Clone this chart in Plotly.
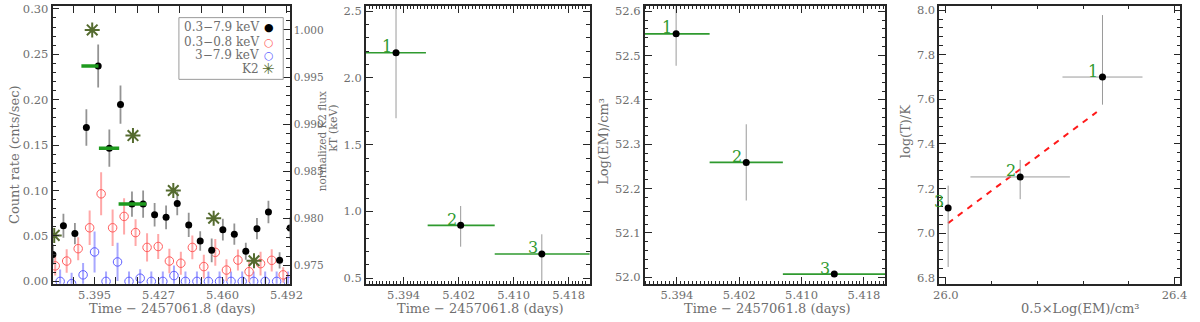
import plotly.graph_objects as go

# ── Data ───────────────────────────────────────────────────────────────────────

# 0.3-7.9 keV light curve (black)
broad_time = [5.37383, 5.37917, 5.38500, 5.39083, 5.39683, 5.40250, 5.40817, 5.41400,
              5.41967, 5.42550, 5.43133, 5.43700, 5.44283, 5.44867, 5.45450, 5.46017,
              5.46600, 5.47183, 5.47750, 5.48333, 5.48900, 5.49433]
broad_rate = [0.0296, 0.0612, 0.0526, 0.1694, 0.2370, 0.1466, 0.1946, 0.0851,
              0.0851, 0.0733, 0.0705, 0.0857, 0.0622, 0.0445, 0.0342, 0.0569,
              0.0520, 0.0331, 0.0580, 0.0765, 0.0232, 0.0587]
broad_err  = [0.011, 0.0132, 0.0117, 0.020, 0.0237, 0.0205, 0.021, 0.0139,
              0.015, 0.013, 0.013, 0.013, 0.0133, 0.0107, 0.013, 0.012,
              0.0116, 0.0093, 0.0117, 0.0124, 0.0089, 0.012]

# 0.3-0.8 keV (red open circles)
soft_time = [5.37500, 5.38083, 5.38667, 5.39250, 5.39833, 5.40417, 5.41000, 5.41583,
             5.42167, 5.42733, 5.43300, 5.43883, 5.44467, 5.45050, 5.45633, 5.46200,
             5.46783, 5.47350, 5.47933, 5.48500, 5.49083]
soft_rate = [0.0171, 0.0224, 0.0360, 0.0590, 0.0964, 0.0590, 0.0715, 0.0537,
             0.0374, 0.0384, 0.0224, 0.0200, 0.0374, 0.0163, 0.0320, 0.0125,
             0.0235, 0.0107, 0.0195, 0.0232, 0.0072]
soft_err  = [0.0105, 0.013, 0.0126, 0.019, 0.0237, 0.020, 0.020, 0.0147,
             0.0155, 0.0137, 0.0135, 0.0126, 0.013, 0.013, 0.0147, 0.012,
             0.0116, 0.0116, 0.013, 0.0123, 0.0084]

# 3-7.9 keV (blue open circles)
hard_time = [5.37750, 5.38333, 5.38917, 5.39500, 5.40083, 5.40667, 5.41250, 5.41817,
             5.42383, 5.42967, 5.43533, 5.44117, 5.44700, 5.45283, 5.45850, 5.46433,
             5.47000, 5.47583, 5.48167, 5.48750, 5.49333]
hard_rate = [0.0, -0.0025, 0.0072, 0.0324, 0.0, 0.0214, 0.0, 0.0035,
             0.0, 0.0, 0.0064, 0.0, 0.0, 0.0, 0.0, 0.0,
             0.0, 0.0, 0.0, 0.0, 0.0]
hard_err  = [0.013, 0.012, 0.013, 0.0225, 0.011, 0.021, 0.011, 0.010,
             0.011, 0.011, 0.011, 0.011, 0.011, 0.011, 0.011, 0.011,
             0.011, 0.011, 0.011, 0.011, 0.011]

# K2 normalized flux (right axis)
k2_time = [5.3745, 5.3938, 5.4145, 5.4350, 5.4555, 5.4760]
k2_flux = [0.97822, 1.0000, 0.98880, 0.98298, 0.98004, 0.97553]

# spectral time bins drawn on the light curve
bin_lo   = [5.3883, 5.3972, 5.4072]
bin_hi   = [5.3970, 5.4075, 5.4212]
bin_rate = [0.2370, 0.1466, 0.0851]

# kT per spectrum
kt_time   = [5.3929, 5.4023, 5.4141]
kt_lo     = [5.3885, 5.3975, 5.40725]
kt_hi     = [5.39725, 5.40725, 5.4215]
kt        = [2.188, 0.896, 0.682]
kt_err_hi = [0.49, 0.145, 0.147]
kt_err_lo = [0.49, 0.16, 0.25]

# Log(EM) per spectrum
em_time = [5.3939, 5.4029, 5.4142]
em_lo   = [5.3896, 5.3982, 5.4076]
em_hi   = [5.3982, 5.4076, 5.4210]
log_em  = [52.549, 52.259, 52.007]
em_err  = [0.072, 0.086, 0.0]

# log T vs 0.5 log EM
half_em     = [26.274, 26.130, 26.004]
half_em_err = [0.070, 0.087, 0.0]
log_t       = [7.700, 7.252, 7.113]
log_t_hi    = [0.278, 0.076, 0.100]
log_t_lo    = [0.124, 0.100, 0.265]
fit_x       = [26.004, 26.264]
fit_y       = [7.045, 7.543]

spec_labels = ["1", "2", "3"]

lc_ticks     = [5.395, 5.4275, 5.460, 5.4925]
lc_ticktext  = ["5.395", "5.427", "5.460", "5.492"]

# ── Style ──────────────────────────────────────────────────────────────────────

W, H = 1200, 322
FONT = "DejaVu Serif"
GREY = "#6e6e6e"
FRAME = "#262626"
GREEN = "#2f9a2f"
OLIVE = "#556b2f"


def px(x):
    return x / W


def py(y):
    return 1 - y / H


YDOM = [py(288), py(3)]


def axis(**kw):
    a = dict(showline=True, linecolor=FRAME, linewidth=1.6, mirror="allticks",
             ticks="inside", ticklen=7, tickwidth=1, tickcolor=FRAME,
             showgrid=False, zeroline=False,
             tickfont=dict(family=FONT, size=11.5, color=GREY),
             minor=dict(ticks="inside", ticklen=3.5, tickwidth=1, tickcolor=FRAME, showgrid=False))
    minor = kw.pop("minor", {})
    a["minor"].update(minor)
    a.update(kw)
    return a


fig = go.Figure()

# ── Panel 1: light curves ──────────────────────────────────────────────────────

fig.add_trace(go.Scatter(x=hard_time, y=hard_rate, mode="markers",
                         marker=dict(symbol="circle-open", size=8.5, color="#5c5cff", line=dict(width=1)),
                         error_y=dict(type="data", array=hard_err, color="#a8a8ff", thickness=2, width=0),
                         xaxis="x", yaxis="y"))
fig.add_trace(go.Scatter(x=soft_time, y=soft_rate, mode="markers",
                         marker=dict(symbol="circle-open", size=8.5, color="#ff5c5c", line=dict(width=1)),
                         error_y=dict(type="data", array=soft_err, color="#ffa8a8", thickness=2, width=0),
                         xaxis="x", yaxis="y"))
fig.add_trace(go.Scatter(x=broad_time, y=broad_rate, mode="markers",
                         marker=dict(symbol="circle", size=7, color="black"),
                         error_y=dict(type="data", array=broad_err, color="#939393", thickness=1.8, width=0),
                         xaxis="x", yaxis="y"))

bx, by = [], []
for lo, hi, r in zip(bin_lo, bin_hi, bin_rate):
    bx += [lo, hi, None]
    by += [r, r, None]
fig.add_trace(go.Scatter(x=bx, y=by, mode="lines", line=dict(color="#1e9a1e", width=3.5),
                         xaxis="x", yaxis="y"))

fig.add_trace(go.Scatter(x=k2_time, y=k2_flux, mode="markers",
                         marker=dict(symbol="asterisk-open", size=12.5, color=OLIVE,
                                     line=dict(color=OLIVE, width=2)),
                         xaxis="x", yaxis="y5"))

# ── Panel 2: kT ────────────────────────────────────────────────────────────────

fig.add_trace(go.Scatter(x=kt_time, y=kt, mode="markers",
                         marker=dict(size=0.1, color="rgba(0,0,0,0)"),
                         error_x=dict(type="data", array=[h - t for h, t in zip(kt_hi, kt_time)],
                                      arrayminus=[t - l for t, l in zip(kt_time, kt_lo)],
                                      color=GREEN, thickness=1.6, width=0),
                         xaxis="x2", yaxis="y2"))
fig.add_trace(go.Scatter(x=kt_time, y=kt, mode="markers",
                         marker=dict(size=7, color="black"),
                         error_y=dict(type="data", array=kt_err_hi, arrayminus=kt_err_lo,
                                      color="#9a9a9a", thickness=1, width=0),
                         xaxis="x2", yaxis="y2"))

# ── Panel 3: Log EM ────────────────────────────────────────────────────────────

fig.add_trace(go.Scatter(x=em_time, y=log_em, mode="markers",
                         marker=dict(size=0.1, color="rgba(0,0,0,0)"),
                         error_x=dict(type="data", array=[h - t for h, t in zip(em_hi, em_time)],
                                      arrayminus=[t - l for t, l in zip(em_time, em_lo)],
                                      color=GREEN, thickness=1.6, width=0),
                         xaxis="x3", yaxis="y3"))
fig.add_trace(go.Scatter(x=em_time, y=log_em, mode="markers",
                         marker=dict(size=7, color="black"),
                         error_y=dict(type="data", array=em_err, color="#9a9a9a", thickness=1, width=0),
                         xaxis="x3", yaxis="y3"))

# ── Panel 4: log T vs 0.5 log EM ───────────────────────────────────────────────

fig.add_trace(go.Scatter(x=fit_x, y=fit_y, mode="lines",
                         line=dict(color="#ff1a1a", width=2, dash="6px,6px"),
                         xaxis="x4", yaxis="y4"))
fig.add_trace(go.Scatter(x=half_em, y=log_t, mode="markers",
                         marker=dict(size=7, color="black"),
                         error_x=dict(type="data", array=half_em_err, color="#9a9a9a", thickness=1, width=0),
                         error_y=dict(type="data", array=log_t_hi, arrayminus=log_t_lo,
                                      color="#9a9a9a", thickness=1, width=0),
                         xaxis="x4", yaxis="y4"))

for tr in fig.data:
    tr.showlegend = False
    tr.hoverinfo = "skip"

# ── Axes ───────────────────────────────────────────────────────────────────────

fig.update_layout(
    width=W, height=H, margin=dict(l=0, r=0, t=0, b=0),
    paper_bgcolor="white", plot_bgcolor="white", showlegend=False,
    xaxis=axis(domain=[px(47.3), px(288.3)], range=[5.37365, 5.49415], anchor="y",
               tickmode="array", tickvals=lc_ticks, ticktext=lc_ticktext,
               minor=dict(tick0=5.395, dtick=0.0325 / 3)),
    yaxis=axis(domain=YDOM, range=[-0.0027, 0.3032], anchor="x", mirror=False,
               tick0=0, dtick=0.05, tickformat=".2f", minor=dict(tick0=0, dtick=0.01)),
    yaxis5=axis(overlaying="y", side="right", anchor="x", range=[0.97308, 1.00255], mirror=False,
                tick0=0.975, dtick=0.005, tickformat=".3f",
                tickfont=dict(family=FONT, size=10.5, color=GREY),
                minor=dict(tick0=0.975, dtick=0.001)),
    xaxis2=axis(domain=[px(365.7), px(593)], range=[5.38852, 5.42105], anchor="y2",
                tick0=5.394, dtick=0.008, tickformat=".3f", minor=dict(tick0=5.394, dtick=0.0005)),
    yaxis2=axis(domain=YDOM, range=[0.458, 2.539], anchor="x2",
                tick0=0.5, dtick=0.5, tickformat=".1f", minor=dict(tick0=0.5, dtick=0.1)),
    xaxis3=axis(domain=[px(649), px(893.3)], range=[5.38987, 5.42073], anchor="y3",
                tick0=5.394, dtick=0.008, tickformat=".3f", minor=dict(tick0=5.394, dtick=0.0005)),
    yaxis3=axis(domain=YDOM, range=[51.985, 52.612], anchor="x3",
                tick0=52.0, dtick=0.1, tickformat=".1f", minor=dict(tick0=52.0, dtick=0.02)),
    xaxis4=axis(domain=[px(948.3), px(1193.3)], range=[25.9885, 26.4103], anchor="y4",
                tickmode="array", tickvals=[26.0, 26.4], tickformat=".1f",
                minor=dict(tick0=26.0, dtick=0.08)),
    yaxis4=axis(domain=YDOM, range=[6.7724, 8.019], anchor="x4",
                tick0=6.8, dtick=0.2, tickformat=".1f", minor=dict(tick0=6.8, dtick=0.04)),
)

# ── Text ───────────────────────────────────────────────────────────────────────

ann = []


def label(text, x, y, size=13, angle=0, color=GREY, xanchor="center"):
    ann.append(dict(text=text, x=px(x), y=py(y), xref="paper", yref="paper", showarrow=False,
                    textangle=angle, xanchor=xanchor, yanchor="middle",
                    font=dict(family=FONT, size=size, color=color)))


time_title = "Time \u2212 2457061.8 (days)"
label(time_title, 169, 313)
label(time_title, 481.7, 313)
label(time_title, 774, 313)
label("0.5\u00d7Log(EM)/cm\u00b3", 1092, 313)
label("Count rate (cnts/sec)", 8, 155, angle=-90)
label("normalized K2 flux", 322, 142, size=10.5, angle=-90)
label("kT (keV)", 333, 128, size=11, angle=-90)
label("Log(EM)/cm\u00b3", 607, 142, angle=-90)
label("log(T)/K", 914, 132, angle=-90)

# legend box
fig.add_shape(type="rect", xref="paper", yref="paper",
              x0=px(175.7), x1=px(281.7), y0=py(78.3), y1=py(15),
              line=dict(color="#9a9a9a", width=1), fillcolor="white")
legend_rows = [("0.3\u22127.9 keV", "\u25cf", "black", 25, 11),
               ("0.3\u22120.8 keV", "\u25cb", "#ff5c5c", 40, 11),
               ("3\u22127.9 keV", "\u25cb", "#5c5cff", 53.5, 11),
               ("K2", "\u2733", OLIVE, 68, 15)]
for txt, sym, col, yy, sz in legend_rows:
    label(txt, 259, yy, size=12, xanchor="right")
    label(sym, 267, yy, size=sz, color=col)

# spectrum numbers
for xa, ya, xs, ys in [("x2", "y2", kt_time, kt), ("x3", "y3", em_time, log_em),
                       ("x4", "y4", half_em, log_t)]:
    for t, x, y in zip(spec_labels, xs, ys):
        ann.append(dict(text=t, x=x, y=y, xref=xa, yref=ya, showarrow=False,
                        xshift=-9, yshift=6, font=dict(family=FONT, size=16, color=GREEN)))

fig.update_layout(annotations=ann)

fig.write_html("out.html", config={"displayModeBar": False},
               post_script="document.body.style.margin='0';document.body.style.overflow='hidden';")
